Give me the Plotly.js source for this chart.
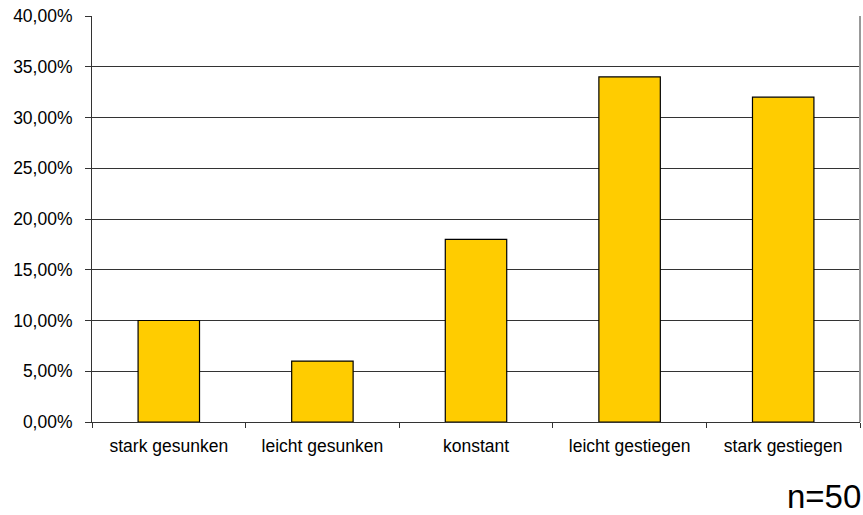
<!DOCTYPE html>
<html>
<head>
<meta charset="utf-8">
<script src="https://cdn.plot.ly/plotly-3.0.1.min.js"></script>
<style>
  html, body { margin: 0; padding: 0; background: #fff; }
  #chart { width: 863px; height: 515px; }
</style>
</head>
<body>
<div id="chart"></div>
<script>
// Survey answers (share of respondents, n = 50)
var categories = ['stark gesunken', 'leicht gesunken', 'konstant', 'leicht gestiegen', 'stark gestiegen'];
var shares = [0.10, 0.06, 0.18, 0.34, 0.32];
var yTickValues = [0, 0.05, 0.10, 0.15, 0.20, 0.25, 0.30, 0.35, 0.40];
var sampleNote = 'n=50';

var trace = {
  type: 'bar',
  x: categories,
  y: shares,
  marker: { color: '#FFCC00', line: { color: '#000000', width: 1.2 } },
  hoverinfo: 'skip'
};

var layout = {
  width: 863,
  height: 515,
  margin: { l: 92, r: 3, t: 16, b: 93 },
  paper_bgcolor: '#ffffff',
  plot_bgcolor: '#ffffff',
  separators: ',.',
  showlegend: false,
  bargap: 0.6,
  font: { family: 'Liberation Sans, Arial, sans-serif', color: '#000000', size: 17.5 },
  xaxis: {
    type: 'category',
    tickson: 'boundaries',
    ticks: 'outside',
    ticklen: 5,
    tickcolor: '#333333',
    ticklabelstandoff: 8,
    showline: true,
    linecolor: '#333333',
    linewidth: 1,
    showgrid: false,
    tickfont: { size: 17.5 },
    fixedrange: true
  },
  yaxis: {
    range: [0, 0.40],
    tickvals: yTickValues,
    tickformat: '.2%',
    ticks: 'outside',
    ticklen: 6,
    tickcolor: '#333333',
    ticklabelstandoff: 9,
    showline: true,
    linecolor: '#333333',
    linewidth: 1,
    showgrid: true,
    gridcolor: '#333333',
    gridwidth: 1,
    zeroline: false,
    tickfont: { size: 17.5 },
    fixedrange: true
  },
  shapes: [
    { type: 'line', xref: 'paper', yref: 'paper', x0: 1, x1: 1, y0: 0, y1: 1,
      line: { color: '#999999', width: 2 } }
  ],
  annotations: [
    { text: sampleNote, xref: 'paper', yref: 'paper', x: 1.003, y: -0.232, xanchor: 'right', yanchor: 'bottom',
      showarrow: false, borderpad: 0, font: { size: 33, color: '#000000' } }
  ]
};

Plotly.newPlot('chart', [trace], layout, { staticPlot: true, displayModeBar: false });
</script>
</body>
</html>
